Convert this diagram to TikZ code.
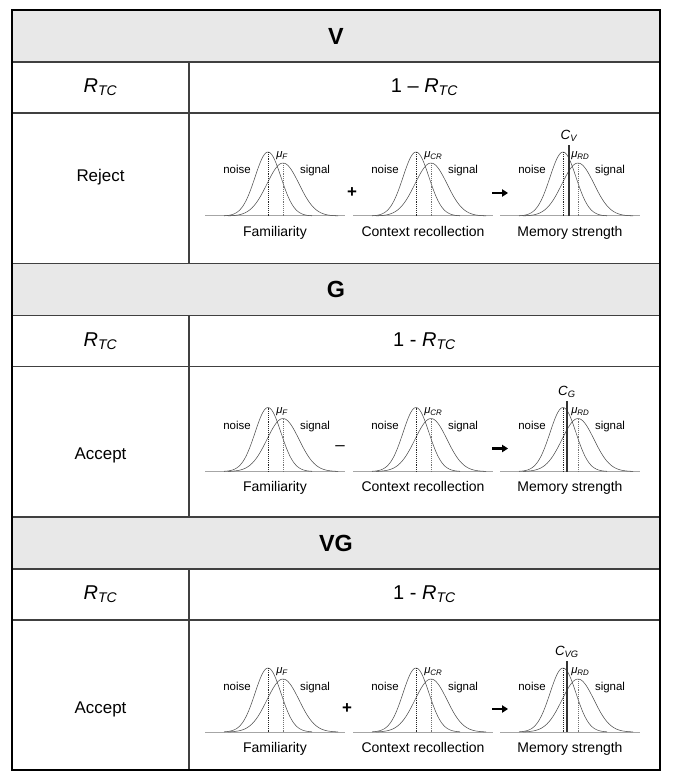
\documentclass[tikz,border=0pt]{standalone}
\usepackage{fontspec}
\setmainfont{Liberation Sans}
\usetikzlibrary{arrows.meta, positioning}

\begin{document}
\begin{tikzpicture}[x=0.75pt, y=-0.75pt,
    hdtxt/.style={font=\fontsize{17.5}{20}\selectfont\bfseries},
    rtxt/.style={font=\fontsize{15}{18}\selectfont},
    celltxt/.style={font=\fontsize{12.7}{15}\selectfont},
    axtxt/.style={font=\fontsize{10.5}{12}\selectfont, anchor=base},
    smtxt/.style={font=\fontsize{8.6}{10}\selectfont, anchor=base},
    mutxt/.style={font=\fontsize{8.5}{10}\selectfont\itshape, inner sep=0pt},
    ctxt/.style={font=\fontsize{10}{12}\selectfont\itshape, inner sep=0pt},
    gridline/.style={draw=black!75, line width=0.8pt},
    curve/.style={draw=black!70, line width=0.4pt},
    axisline/.style={draw=black!35, line width=0.75pt},
    cutline/.style={draw=black!80, line width=1pt},
    oparrow/.style={-{Triangle[length=4.5pt,width=5.5pt]}, line width=1.6pt}]
    \useasboundingbox (0,0) rectangle (673,777);
    % 三个区块:标题、R_TC 行、分布图行
    \foreach \T/\hd/\rr/\res/\ly/\by/\op/\opx/\cut [count=\k] in
        {10/V/{1 --}/Reject/167/206/{\bfseries +}/352/6,
         263.5/G/{1 -}/Accept/192/208/{--}/340/4,
         517/VG/{1 -}/Accept/192/215/{\bfseries +}/347/4} {
        \pgfmathsetmacro{\yb}{\T+\by}
        % 标题行,灰底
        \fill[black!9] (12,\T) rectangle (660,\T+52);
        \node[hdtxt] (hd\k) at (336,\T+26) {\hd};
        % 表格线
        \draw[gridline] (12,\T+52) -- (660,\T+52);
        \draw[gridline] (12,\T+103) -- (660,\T+103);
        \draw[gridline] (12,\T) -- (660,\T);
        \draw[gridline] (189,\T+52) -- (189,\T+253);
        % R_TC 与 1 - R_TC
        \node[rtxt] (rtc\k) at (100.5,\T+77.5) {\textit{R}\textsubscript{\itshape TC}};
        \node[rtxt] (rest\k) at (424.5,\T+77.5) {\rr\ \textit{R}\textsubscript{\itshape TC}};
        \node[celltxt] (dec\k) at (100.5,\T+\ly) {\res};
        % 三个分布图
        \foreach \mn/\mu/\lab [count=\j] in
            {268/F/Familiarity, 416/CR/Context recollection, 563/RD/Memory strength} {
            \draw[axisline] (\mn-63,\yb) -- (\mn+77,\yb);
            \draw[curve] plot[smooth, domain=\mn-44:\mn+44, samples=60, variable=\t]
                (\t, {\yb-64*exp(-((\t-\mn)^2)/338)});
            \draw[curve] plot[smooth, domain=\mn-40:\mn+70, samples=60, variable=\t]
                (\t, {\yb-53*exp(-((\t-\mn-15)^2)/512)});
            \draw[densely dotted, black!85] (\mn,\yb) -- (\mn,\yb-64);
            \draw[densely dotted, black!55] (\mn+15,\yb) -- (\mn+15,\yb-53);
            \node[smtxt] (noise\k\j) at (\mn-31,\yb-42) {noise};
            \node[smtxt] (signal\k\j) at (\mn+47,\yb-42) {signal};
            \node[mutxt, anchor=west] (mu\k\j) at (\mn+8,\yb-60) {μ\textsubscript{\mu}};
            \node[axtxt] (lab\k\j) at (\mn+7,\yb+20) {\lab};
        }
        % 判别标准
        \draw[cutline] (563+\cut,\yb) -- (563+\cut,\yb-71);
        \node[ctxt] (crit\k) at (563+\cut,\yb-80) {C\textsubscript{\hd}};
        % 运算符与箭头
        \node[celltxt] (op\k) at (\opx,\yb-23) {\op};
        \coordinate (as\k) at (492,\yb-23);
        \coordinate (ae\k) at (508,\yb-23);
        \draw[oparrow] (as\k) -- (ae\k);
    }
    % 外框
    \draw[line width=1.5pt] (12,10) rectangle (660,770);
\end{tikzpicture}
\end{document}
